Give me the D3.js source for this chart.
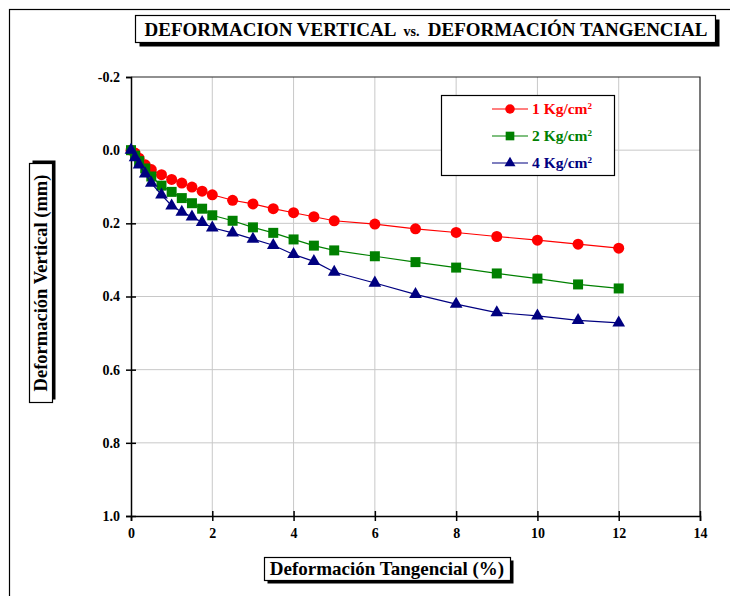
<!DOCTYPE html>
<html>
<head>
<meta charset="utf-8">
<script src="https://cdn.jsdelivr.net/npm/d3@7"></script>
<style>
  body { margin: 0; background: #fff; }
  svg { display: block; font-family: "Liberation Serif", "Times New Roman", serif; }
</style>
</head>
<body>
<div id="chart"></div>
<script>
// Data
const xValues = [0, 0.1, 0.2, 0.35, 0.5, 0.75, 1, 1.25, 1.5, 1.75, 2, 2.5, 3, 3.5, 4, 4.5, 5, 6, 7, 8, 9, 10, 11, 12];
const load1 = [0, 0.008, 0.022, 0.04, 0.053, 0.067, 0.08, 0.09, 0.101, 0.112, 0.122, 0.137, 0.147, 0.16, 0.171, 0.182, 0.193, 0.202, 0.215, 0.225, 0.236, 0.246, 0.257, 0.268];
const load2 = [0, 0.015, 0.03, 0.05, 0.072, 0.097, 0.114, 0.131, 0.145, 0.16, 0.178, 0.193, 0.211, 0.226, 0.244, 0.261, 0.274, 0.29, 0.306, 0.321, 0.337, 0.351, 0.367, 0.378];
const load4 = [0, 0.02, 0.04, 0.065, 0.09, 0.122, 0.152, 0.169, 0.182, 0.197, 0.212, 0.226, 0.243, 0.26, 0.285, 0.304, 0.333, 0.363, 0.394, 0.421, 0.444, 0.453, 0.465, 0.472];
const seriesNames = ["1 Kg/cm", "2 Kg/cm", "4 Kg/cm"];
const xTicks = [0, 2, 4, 6, 8, 10, 12, 14];
const yTicks = [-0.2, 0, 0.2, 0.4, 0.6, 0.8, 1.0];

const width = 730;
const height = 596;

const svg = d3
  .select("#chart")
  .append("svg")
  .attr("width", width)
  .attr("height", height);

// outer frame (cut off at right and bottom)
svg
  .append("rect")
  .attr("x", 9.5)
  .attr("y", 9.5)
  .attr("width", 740)
  .attr("height", 600)
  .attr("fill", "none")
  .attr("stroke", "#000")
  .attr("stroke-width", 1.2);

const x = d3.scaleLinear().domain([0, 14]).range([131, 700]);
const y = d3.scaleLinear().domain([-0.2, 1.0]).range([77, 516]);

// gridlines
const grid = svg.append("g").attr("stroke", "#c8c8c8").attr("stroke-width", 1);
grid
  .selectAll("line.v")
  .data(xTicks.filter((d) => d > 0 && d < 14))
  .join("line")
  .attr("x1", (d) => x(d))
  .attr("x2", (d) => x(d))
  .attr("y1", y(-0.2))
  .attr("y2", y(1.0));
grid
  .selectAll("line.h")
  .data(yTicks.filter((d) => d > -0.2 && d < 1.0))
  .join("line")
  .attr("class", "h")
  .attr("x1", x(0))
  .attr("x2", x(14))
  .attr("y1", (d) => y(d))
  .attr("y2", (d) => y(d));

// top and right borders of the plot
svg
  .append("path")
  .attr("d", `M${x(0)},${y(-0.2)}H${x(14)}V${y(1.0)}`)
  .attr("fill", "none")
  .attr("stroke", "#222")
  .attr("stroke-width", 1.2);

// axes, ticks cross the axis line
function styleAxis(g) {
  g.selectAll("path,line").attr("stroke", "#000").attr("stroke-width", 1.5);
  g.selectAll("text")
    .attr("fill", "#000")
    .style("font-size", "14px")
    .style("font-weight", "bold")
    .style("font-family", '"Liberation Serif", serif');
}

svg
  .append("g")
  .attr("transform", `translate(${x(0)},0)`)
  .call(
    d3.axisLeft(y).tickValues(yTicks).tickSize(5).tickPadding(6).tickFormat((d) => d.toFixed(1))
  )
  .call(styleAxis);
svg
  .append("g")
  .attr("transform", `translate(${x(0)},0)`)
  .call(d3.axisLeft(y).tickValues(yTicks.filter((d) => d > -0.2)).tickSize(-5).tickFormat(""))
  .call(styleAxis)
  .select(".domain")
  .remove();

svg
  .append("g")
  .attr("transform", `translate(0,${y(1.0)})`)
  .call(d3.axisBottom(x).tickValues(xTicks).tickSize(5).tickPadding(7))
  .call(styleAxis);
svg
  .append("g")
  .attr("transform", `translate(0,${y(1.0)})`)
  .call(d3.axisBottom(x).tickValues(xTicks.filter((d) => d > 0)).tickSize(-5).tickFormat(""))
  .call(styleAxis)
  .select(".domain")
  .remove();

// series
const series = [
  { name: seriesNames[0], values: load1, color: "#ff0000", symbol: d3.symbolCircle, size: 95 },
  { name: seriesNames[1], values: load2, color: "#008000", symbol: d3.symbolSquare, size: 100 },
  { name: seriesNames[2], values: load4, color: "#000080", symbol: d3.symbolTriangle, size: 70 },
];

const line = d3
  .line()
  .x((d) => x(d[0]))
  .y((d) => y(d[1]));

series.forEach((s) => {
  const pts = xValues.map((v, i) => [v, s.values[i]]);
  svg
    .append("path")
    .datum(pts)
    .attr("d", line)
    .attr("fill", "none")
    .attr("stroke", s.color)
    .attr("stroke-width", 1.2);
  svg
    .append("g")
    .selectAll("path")
    .data(pts)
    .join("path")
    .attr("transform", (d) => `translate(${x(d[0])},${y(d[1])})`)
    .attr("d", d3.symbol().type(s.symbol).size(s.size))
    .attr("fill", s.color);
});

// legend
const legend = svg.append("g");
legend
  .append("rect")
  .attr("x", 441.5)
  .attr("y", 95.5)
  .attr("width", 173)
  .attr("height", 80)
  .attr("fill", "#fff")
  .attr("stroke", "#000")
  .attr("stroke-width", 1.2);
const rowY = [109, 136, 163];
series.forEach((s, i) => {
  const row = legend.append("g").attr("transform", `translate(0,${rowY[i]})`);
  row
    .append("line")
    .attr("x1", 492)
    .attr("x2", 528)
    .attr("stroke", s.color)
    .attr("stroke-width", 1.2);
  row
    .append("path")
    .attr("transform", "translate(510,0)")
    .attr("d", d3.symbol().type(s.symbol).size(s.size * 0.75))
    .attr("fill", s.color);
  const t = row
    .append("text")
    .attr("x", 532)
    .attr("y", 5)
    .attr("fill", s.color)
    .style("font-size", "15.5px")
    .style("font-weight", "bold")
    .text(s.name);
  t.append("tspan").attr("dy", -5).style("font-size", "9px").text("2");
});

// boxes with drop shadow
function shadowBox(bx, by, bw, bh, dx, dy) {
  svg
    .append("rect")
    .attr("x", bx + dx)
    .attr("y", by + dy)
    .attr("width", bw)
    .attr("height", bh)
    .attr("fill", "#000");
  svg
    .append("rect")
    .attr("x", bx)
    .attr("y", by)
    .attr("width", bw)
    .attr("height", bh)
    .attr("fill", "#fff")
    .attr("stroke", "#000")
    .attr("stroke-width", 1.2);
}

// title
shadowBox(135.5, 15.5, 580, 27, 4, 4);
const title = svg
  .append("text")
  .attr("x", 426)
  .attr("y", 35.5)
  .attr("text-anchor", "middle")
  .attr("fill", "#000")
  .attr("xml:space", "preserve")
  .style("white-space", "pre")
  .style("font-size", "19px")
  .style("font-weight", "bold");
title.append("tspan").text("DEFORMACION VERTICAL ");
title.append("tspan").style("font-size", "14px").text(" vs. ");
title.append("tspan").text(" DEFORMACIÓN TANGENCIAL");

// y label
shadowBox(29.5, 163.5, 23, 239, 3, -3);
svg
  .append("text")
  .attr("transform", "translate(47,283) rotate(-90)")
  .attr("text-anchor", "middle")
  .attr("fill", "#000")
  .style("font-size", "18.5px")
  .style("font-weight", "bold")
  .text("Deformación Vertical (mm)");

// x label
shadowBox(264.5, 557.5, 246, 23, 3, 3);
svg
  .append("text")
  .attr("x", 387)
  .attr("y", 575)
  .attr("text-anchor", "middle")
  .attr("fill", "#000")
  .style("font-size", "19px")
  .style("font-weight", "bold")
  .text("Deformación Tangencial (%)");
</script>
</body>
</html>
